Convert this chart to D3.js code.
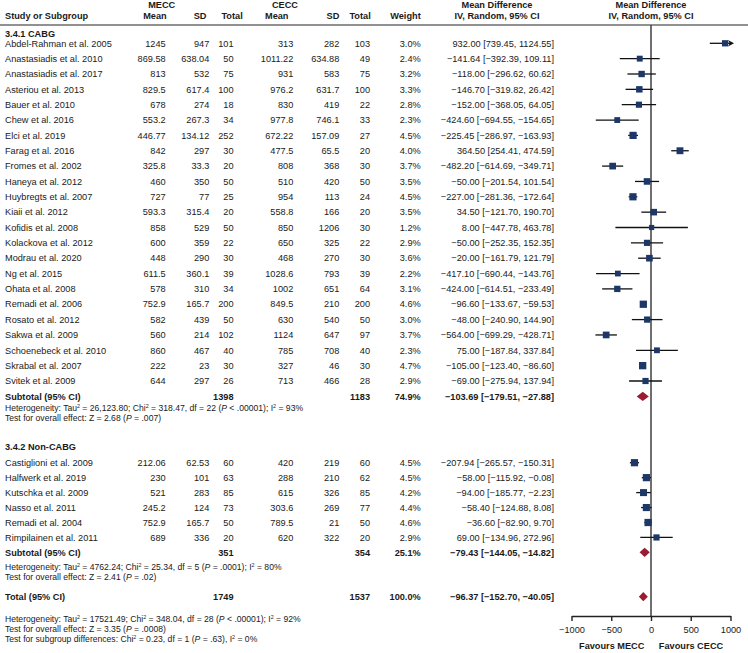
<!DOCTYPE html>
<html>
<head>
<meta charset="utf-8">
<script src="https://cdn.jsdelivr.net/npm/d3@7/dist/d3.min.js"></script>
<style>
  html, body { margin: 0; padding: 0; background: #fff; }
  svg { display: block; font-family: "Liberation Sans", Arial, Helvetica, sans-serif; }
</style>
</head>
<body>
<svg id="chart" width="748" height="653"></svg>
<script>
// ---------------- DATA ----------------
const groupNames = ["3.4.1 CABG", "3.4.2 Non-CABG"];
const studies = [
  "Abdel-Rahman et al. 2005","Anastasiadis et al. 2010","Anastasiadis et al. 2017","Asteriou et al. 2013",
  "Bauer et al. 2010","Chew et al. 2016","Elci et al. 2019","Farag et al. 2016","Fromes et al. 2002",
  "Haneya et al. 2012","Huybregts et al. 2007","Kiaii et al. 2012","Kofidis et al. 2008","Kolackova et al. 2012",
  "Modrau et al. 2020","Ng et al. 2015","Ohata et al. 2008","Remadi et al. 2006","Rosato et al. 2012",
  "Sakwa et al. 2009","Schoenebeck et al. 2010","Skrabal et al. 2007","Svitek et al. 2009",
  "Castiglioni et al. 2009","Halfwerk et al. 2019","Kutschka et al. 2009","Nasso et al. 2011",
  "Remadi et al. 2004","Rimpilainen et al. 2011"
];
const studyGroup = [0,0,0,0,0,0,0,0,0,0,0,0,0,0,0,0,0,0,0,0,0,0,0, 1,1,1,1,1,1];
const meccMean = [1245,869.58,813,829.5,678,553.2,446.77,842,325.8,460,727,593.3,858,600,448,611.5,578,752.9,582,560,860,222,644, 212.06,230,521,245.2,752.9,689];
const meccSD   = [947,638.04,532,617.4,274,267.3,134.12,297,33.3,350,77,315.4,529,359,290,360.1,310,165.7,439,214,467,23,297, 62.53,101,283,124,165.7,336];
const meccN    = [101,50,75,100,18,34,252,30,20,50,25,20,50,22,30,39,34,200,50,102,40,30,26, 60,63,85,73,50,20];
const ceccMean = [313,1011.22,931,976.2,830,977.8,672.22,477.5,808,510,954,558.8,850,650,468,1028.6,1002,849.5,630,1124,785,327,713, 420,288,615,303.6,789.5,620];
const ceccSD   = [282,634.88,583,631.7,419,746.1,157.09,65.5,368,420,113,166,1206,325,270,793,651,210,540,647,708,46,466, 219,210,326,269,21,322];
const ceccN    = [103,49,75,100,22,33,27,20,30,50,24,20,30,22,30,39,64,200,50,97,40,30,28, 60,62,85,77,50,20];
const weights  = [3.0,2.4,3.2,3.3,2.8,2.3,4.5,4.0,3.7,3.5,4.5,3.5,1.2,2.9,3.6,2.2,3.1,4.6,3.0,3.7,2.3,4.7,2.9, 4.5,4.5,4.2,4.4,4.6,2.9];
const md       = [932.00,-141.64,-118.00,-146.70,-152.00,-424.60,-225.45,364.50,-482.20,-50.00,-227.00,34.50,8.00,-50.00,-20.00,-417.10,-424.00,-96.60,-48.00,-564.00,75.00,-105.00,-69.00, -207.94,-58.00,-94.00,-58.40,-36.60,69.00];
const ciLow    = [739.45,-392.39,-296.62,-319.82,-368.05,-694.55,-286.97,254.41,-614.69,-201.54,-281.36,-121.70,-447.78,-252.35,-161.79,-690.44,-614.51,-133.67,-240.90,-699.29,-187.84,-123.40,-275.94, -265.57,-115.92,-185.77,-124.88,-82.90,-134.96];
const ciHigh   = [1124.55,109.11,60.62,26.42,64.05,-154.65,-163.93,474.59,-349.71,101.54,-172.64,190.70,463.78,152.35,121.79,-143.76,-233.49,-59.53,144.90,-428.71,337.84,-86.60,137.94, -150.31,-0.08,-2.23,8.08,9.70,272.96];

const subtotalLabels = ["Subtotal (95% CI)", "Subtotal (95% CI)", "Total (95% CI)"];
const subtotalMeccN  = [1398, 351, 1749];
const subtotalCeccN  = [1183, 354, 1537];
const subtotalWeight = [74.9, 25.1, 100.0];
const subtotalMD     = [-103.69, -79.43, -96.37];
const subtotalLow    = [-179.51, -144.05, -152.70];
const subtotalHigh   = [-27.88, -14.82, -40.05];

const hetTexts = [
  [["Heterogeneity: Tau","2"," = 26,123.80; Chi","2"," = 318.47, df = 22 (","P"," < .00001); I","2"," = 93%"],
   ["Test for overall effect: Z = 2.68 (","P"," = .007)"]],
  [["Heterogeneity: Tau","2"," = 4762.24; Chi","2"," = 25.34, df = 5 (","P"," = .0001); I","2"," = 80%"],
   ["Test for overall effect: Z = 2.41 (","P"," = .02)"]],
  [["Heterogeneity: Tau","2"," = 17521.49; Chi","2"," = 348.04, df = 28 (","P"," < .00001); I","2"," = 92%"],
   ["Test for overall effect: Z = 3.35 (","P"," = .0008)"],
   ["Test for subgroup differences: Chi","2"," = 0.23, df = 1 (","P"," = .63), I","2"," = 0%"]]
];
const axisTicks = [-1000, -500, 0, 500, 1000];
const favourLabels = ["Favours MECC", "Favours CECC"];

// ---------------- LAYOUT ----------------
const svg = d3.select("#chart");
const FS = 9.2, FSs = 8.6;
const ink = "#1a1a1a";
const sqColor = "#1c3768", dmColor = "#9b1b30";
const x = d3.scaleLinear().domain([-1000, 1000]).range([571.5, 730.5]);

const col = { study: 5, mMean: 165.7, mSD: 209.3, mN: 233.5, cMean: 293.3, cSD: 339.3, cN: 370, w: 420.7, ci: 554 };
const fmt2 = d3.format(".2f"), fmt1 = d3.format(".1f");

function txt(xp, yp, s, opts = {}) {
  return svg.append("text").attr("x", xp).attr("y", yp).attr("dy", "0.35em")
    .attr("font-size", opts.size || FS).attr("fill", ink)
    .attr("font-weight", opts.bold ? "bold" : null)
    .attr("text-anchor", opts.anchor || "start").text(s);
}

// header
txt(161.7, 5, "MECC", { bold: true, anchor: "middle" });
txt(285, 5, "CECC", { bold: true, anchor: "middle" });
txt(col.study, 15.5, "Study or Subgroup", { bold: true });
txt(166.7, 15.5, "Mean", { bold: true, anchor: "end" });
txt(206.5, 15.5, "SD", { bold: true, anchor: "end" });
txt(242.7, 15.5, "Total", { bold: true, anchor: "end" });
txt(288.5, 15.5, "Mean", { bold: true, anchor: "end" });
txt(339.3, 15.5, "SD", { bold: true, anchor: "end" });
txt(370.7, 15.5, "Total", { bold: true, anchor: "end" });
txt(420.7, 15.5, "Weight", { bold: true, anchor: "end" });
txt(497, 5, "Mean Difference", { bold: true, anchor: "middle" });
txt(497, 15.5, "IV, Random, 95% CI", { bold: true, anchor: "middle" });
txt(651, 5, "Mean Difference", { bold: true, anchor: "middle" });
txt(651, 15.5, "IV, Random, 95% CI", { bold: true, anchor: "middle" });

svg.append("line").attr("x1", 0).attr("x2", 748).attr("y1", 25).attr("y2", 25)
  .attr("stroke", "#6d6d6d").attr("stroke-width", 1.5);

// zero line
const axisY = 616;
svg.append("line").attr("x1", x(0)).attr("x2", x(0)).attr("y1", 25).attr("y2", axisY)
  .attr("stroke", "#3f3f3f").attr("stroke-width", 1.5);

// row positions
const groupHeaderY = [33.3, 446.7];
const groupStartY = [43.3, 462.7];
const rowStep = [15.35, 14.95];
const subtotalY = [396.4, 552.3, 596.7];
const hetY = [[407.7, 417.7], [567.3, 577.3], [618.7, 628.7, 639.3]];

groupNames.forEach((g, gi) => txt(col.study, groupHeaderY[gi], g, { bold: true }));

const counters = [0, 0];
studies.forEach((s, i) => {
  const g = studyGroup[i];
  const y = groupStartY[g] + counters[g] * rowStep[g];
  counters[g]++;
  txt(col.study, y, s);
  txt(col.mMean, y, String(meccMean[i]), { anchor: "end" });
  txt(col.mSD, y, String(meccSD[i]), { anchor: "end" });
  txt(col.mN, y, String(meccN[i]), { anchor: "end" });
  txt(col.cMean, y, String(ceccMean[i]), { anchor: "end" });
  txt(col.cSD, y, String(ceccSD[i]), { anchor: "end" });
  txt(col.cN, y, String(ceccN[i]), { anchor: "end" });
  txt(col.w, y, fmt1(weights[i]) + "%", { anchor: "end" });
  txt(col.ci, y, `${fmt2(md[i])} [${fmt2(ciLow[i])}, ${fmt2(ciHigh[i])}]`, { anchor: "end" });

  const [d0, d1] = x.domain();
  const lo = Math.max(ciLow[i], d0), hi = Math.min(ciHigh[i], d1);
  svg.append("line").attr("x1", x(lo)).attr("x2", x(hi)).attr("y1", y).attr("y2", y)
    .attr("stroke", "#111").attr("stroke-width", 1.3);
  if (ciHigh[i] > d1) {
    const tx = x(d1) + 3.5;
    svg.append("path").attr("d", `M${tx},${y} L${tx - 6},${y - 3.3} L${tx - 4.2},${y} L${tx - 6},${y + 3.3} Z`)
      .attr("fill", "#111");
  }
  if (ciLow[i] < d0) {
    const tx = x(d0) - 3.5;
    svg.append("path").attr("d", `M${tx},${y} L${tx + 6},${y - 3.3} L${tx + 4.2},${y} L${tx + 6},${y + 3.3} Z`)
      .attr("fill", "#111");
  }
  const sz = 4.4 + 0.62 * weights[i];
  svg.append("rect").attr("x", x(md[i]) - sz / 2).attr("y", y - sz / 2)
    .attr("width", sz).attr("height", sz).attr("fill", sqColor);
});

// subtotals and total
subtotalLabels.forEach((lab, k) => {
  const y = subtotalY[k];
  txt(col.study, y, lab, { bold: true });
  txt(col.mN, y, String(subtotalMeccN[k]), { anchor: "end", bold: true });
  txt(col.cN, y, String(subtotalCeccN[k]), { anchor: "end", bold: true });
  txt(col.w, y, fmt1(subtotalWeight[k]) + "%", { anchor: "end", bold: true });
  txt(col.ci, y, `${fmt2(subtotalMD[k])} [${fmt2(subtotalLow[k])}, ${fmt2(subtotalHigh[k])}]`, { anchor: "end", bold: true });
  const h = 4.6;
  svg.append("path")
    .attr("d", `M${x(subtotalLow[k])},${y} L${x(subtotalMD[k])},${y - h} L${x(subtotalHigh[k])},${y} L${x(subtotalMD[k])},${y + h} Z`)
    .attr("fill", dmColor);
});

// heterogeneity texts
const supShift = 3.2;
hetTexts.forEach((lines, k) => {
  lines.forEach((parts, li) => {
    const t = svg.append("text").attr("x", col.study).attr("y", hetY[k][li] + 3.1)
      .attr("font-size", FSs).attr("fill", ink);
    let raised = false;
    parts.forEach(p => {
      if (p === "2") {
        t.append("tspan").attr("font-size", FSs * 0.62).attr("dy", -supShift).text("2");
        raised = true;
      } else {
        const sp = t.append("tspan").text(p);
        if (raised) { sp.attr("dy", supShift); raised = false; }
        if (p === "P") sp.attr("font-style", "italic");
      }
    });
  });
});

// axis
const axis = d3.axisBottom(x).tickValues(axisTicks).tickSize(5).tickSizeOuter(0).tickPadding(5)
  .tickFormat(d3.format("d"));
const ag = svg.append("g").attr("transform", `translate(0,${axisY})`).call(axis);
ag.select(".domain").attr("stroke", "#222").attr("stroke-width", 1.6);
ag.selectAll(".tick line").attr("stroke", "#222").attr("stroke-width", 1.4);
ag.selectAll(".tick text").attr("font-size", FS).attr("fill", ink)
  .attr("font-family", "\"Liberation Sans\", Arial, sans-serif");

txt(611.7, 645.3, favourLabels[0], { bold: true, anchor: "middle" });
txt(691, 645.3, favourLabels[1], { bold: true, anchor: "middle" });
</script>
</body>
</html>
